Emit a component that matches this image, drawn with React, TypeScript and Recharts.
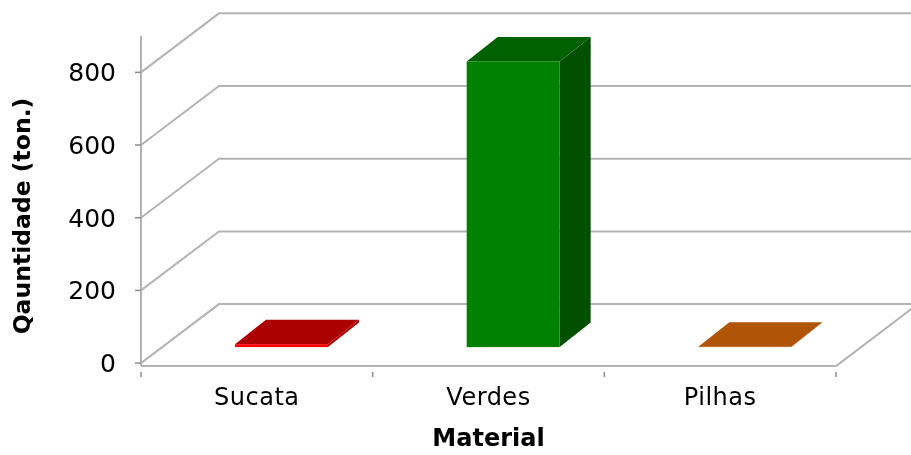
import { Bar, BarChart, CartesianGrid, Label, Text, XAxis, YAxis } from "recharts";

const materials = ["Sucata", "Verdes", "Pilhas"];
const quantities = [8, 786, 1];
const valueTicks = [0, 200, 400, 600, 800];

const data = materials.map((material, i) => ({ material, quantity: quantities[i] }));

// front, top, side
const palette = [
  ["#ff0000", "#ab0000", "#b40000"],
  ["#008000", "#006100", "#005000"],
  ["#c46410", "#b05508", "#8a4206"],
];

const FONT = "'DejaVu Sans', sans-serif";
const GRID = "#b4b4b4";
const TICK = "#8c8c8c";

const PLOT_WIDTH = 695;
const TICK_MARGIN = 16;
const TICK_SIZE = 5;

// pseudo 3d: wall depth and box depth
const WALL_DX = 78;
const WALL_DY = -59;
const BOX_DX = 31;
const BOX_DY = -24.5;
const FLOAT_DX = 25;
const FLOAT_DY = -16;

function WallLine(props: any) {
  const { x1, y1, x2 } = props;
  const isFloor = Math.abs(y1 - 363) < 2;
  return (
    <g key={props.key}>
      <path
        d={`M${x1},${y1}L${x1 + WALL_DX},${y1 + WALL_DY}L${x2 + WALL_DX},${y1 + WALL_DY}`}
        fill="none"
        stroke={GRID}
        strokeWidth={2}
      />
      {isFloor && (
        <path
          d={`M${x2},${y1 + 3}L${x2 + WALL_DX},${y1 + 3 + WALL_DY}`}
          fill="none"
          stroke={GRID}
          strokeWidth={2}
        />
      )}
    </g>
  );
}

// tick marks sit on the category edges, the label stays in the middle
function MaterialTick(props: any) {
  const { x, y, index, payload, textAnchor, verticalAnchor } = props;
  const half = PLOT_WIDTH / materials.length / 2;
  const axisY = y - TICK_MARGIN;
  const edges = index === materials.length - 1 ? [x - half, x + half] : [x - half];
  return (
    <g>
      {edges.map((edge) => (
        <line key={edge} x1={edge} x2={edge} y1={axisY} y2={axisY + TICK_SIZE} stroke={TICK} strokeWidth={1.5} />
      ))}
      <Text
        x={x}
        y={y}
        textAnchor={textAnchor}
        verticalAnchor={verticalAnchor}
        fontFamily={FONT}
        fontSize={24}
        fill="#000"
        letterSpacing={0.5}
      >
        {payload.value}
      </Text>
    </g>
  );
}

function Box3D(props: any) {
  const { x, y, width, height, index } = props;
  const [front, top, side] = palette[index];
  const left = x + FLOAT_DX;
  const right = left + width;
  const upper = y + FLOAT_DY;
  const lower = upper + height;
  return (
    <g>
      <polygon
        points={`${right},${upper} ${right + BOX_DX},${upper + BOX_DY} ${right + BOX_DX},${lower + BOX_DY} ${right},${lower}`}
        fill={side}
      />
      <polygon
        points={`${left},${upper} ${left + BOX_DX},${upper + BOX_DY} ${right + BOX_DX},${upper + BOX_DY} ${right},${upper}`}
        fill={top}
      />
      <rect x={left} y={upper} width={width} height={height} fill={front} />
    </g>
  );
}

export default function App() {
  return (
    <div style={{ position: "absolute", left: 0, top: 0, width: 911, height: 455, overflow: "hidden", background: "#fff" }}>
      <BarChart
        width={911}
        height={455}
        data={data}
        margin={{ top: 36, right: 75, bottom: 0, left: 0 }}
        style={{ filter: "blur(0.5px)" }}
      >
        <CartesianGrid horizontal={WallLine} vertical={false} syncWithTicks />
        <XAxis
          dataKey="material"
          height={89}
          interval={0}
          axisLine={{ stroke: GRID, strokeWidth: 2 }}
          tickLine={false}
          tickMargin={TICK_MARGIN}
          tick={MaterialTick}
        >
          <Label
            value="Material"
            position="insideBottom"
            offset={9}
            style={{ fontFamily: FONT, fontSize: 24, fontWeight: "bold", fill: "#000" }}
          />
        </XAxis>
        <YAxis
          width={141}
          domain={[-8, 900]}
          ticks={valueTicks}
          tickSize={6}
          tickMargin={19}
          allowDataOverflow
          axisLine={{ stroke: GRID, strokeWidth: 2 }}
          tickLine={{ stroke: TICK, strokeWidth: 1.5 }}
          tick={{ fontFamily: FONT, fontSize: 25, fill: "#000" }}
        >
          <Label
            value="Qauntidade (ton.)"
            angle={-90}
            position="insideLeft"
            offset={22}
            dy={15}
            textAnchor="middle"
            style={{ fontFamily: FONT, fontSize: 23.5, fontWeight: "bold", fill: "#000", textAnchor: "middle" }}
          />
        </YAxis>
        <Bar dataKey="quantity" barSize={93} shape={Box3D} isAnimationActive={false} />
      </BarChart>
    </div>
  );
}
